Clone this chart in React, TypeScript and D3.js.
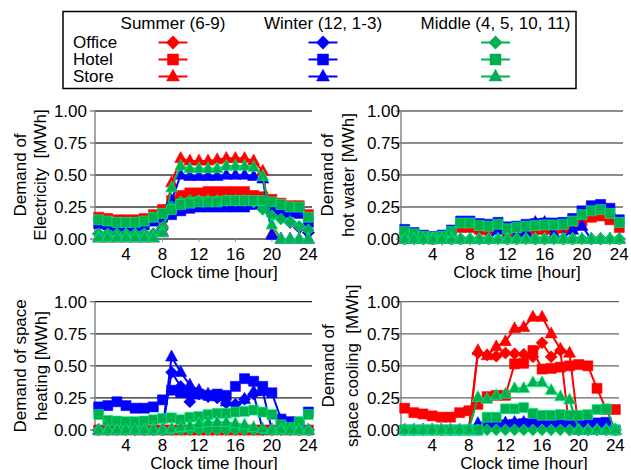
import React from "react";
import * as d3 from "d3";

// x categories and axis ticks
const hours = [1, 2, 3, 4, 5, 6, 7, 8, 9, 10, 11, 12, 13, 14, 15, 16, 17, 18, 19, 20, 21, 22, 23, 24];
const xTicks = [4, 8, 12, 16, 20, 24];
const yTicks = [0, 0.25, 0.5, 0.75, 1];
const seasons = ["Summer (6-9)", "Winter (12, 1-3)", "Middle (4, 5, 10, 11)"];
const buildings = ["Office", "Hotel", "Store"];
const seasonColors = ["#ff0000", "#0000ff", "#00b050"];

// Electricity [MWh]
const elecSummerOffice = [0.04, 0.04, 0.04, 0.04, 0.04, 0.04, 0.04, 0.1, 0.26, 0.31, 0.33, 0.33, 0.33, 0.33, 0.33, 0.33, 0.33, 0.31, 0.25, 0.2, 0.17, 0.13, 0.09, 0.05];
const elecSummerHotel = [0.17, 0.16, 0.15, 0.15, 0.15, 0.16, 0.19, 0.23, 0.3, 0.34, 0.36, 0.36, 0.37, 0.37, 0.37, 0.37, 0.37, 0.34, 0.33, 0.31, 0.28, 0.26, 0.26, 0.19];
const elecSummerStore = [0.01, 0.01, 0.01, 0.01, 0.01, 0.01, 0.01, 0.06, 0.44, 0.63, 0.61, 0.61, 0.61, 0.62, 0.63, 0.63, 0.63, 0.61, 0.53, 0.04, 0, 0, 0, 0];
const elecWinterOffice = [0.04, 0.04, 0.04, 0.04, 0.04, 0.04, 0.04, 0.08, 0.24, 0.28, 0.29, 0.29, 0.29, 0.29, 0.29, 0.29, 0.29, 0.28, 0.24, 0.2, 0.17, 0.13, 0.09, 0.05];
const elecWinterHotel = [0.12, 0.11, 0.1, 0.1, 0.1, 0.11, 0.14, 0.17, 0.19, 0.22, 0.24, 0.25, 0.25, 0.25, 0.25, 0.25, 0.25, 0.27, 0.27, 0.26, 0.23, 0.21, 0.2, 0.13];
const elecWinterStore = [0.01, 0.01, 0.01, 0.01, 0.01, 0.01, 0.01, 0.05, 0.3, 0.5, 0.49, 0.49, 0.49, 0.49, 0.5, 0.5, 0.5, 0.49, 0.47, 0.03, 0, 0, 0, 0];
const elecMiddleOffice = [0.04, 0.04, 0.04, 0.04, 0.04, 0.04, 0.04, 0.09, 0.25, 0.29, 0.3, 0.3, 0.3, 0.3, 0.3, 0.3, 0.3, 0.29, 0.23, 0.18, 0.155, 0.135, 0.1, 0.07];
const elecMiddleHotel = [0.15, 0.14, 0.13, 0.13, 0.13, 0.14, 0.17, 0.2, 0.23, 0.27, 0.28, 0.29, 0.29, 0.29, 0.3, 0.3, 0.3, 0.3, 0.3, 0.29, 0.27, 0.25, 0.25, 0.17];
const elecMiddleStore = [0.01, 0.01, 0.01, 0.01, 0.01, 0.01, 0.01, 0.05, 0.4, 0.57, 0.55, 0.55, 0.55, 0.55, 0.57, 0.57, 0.57, 0.56, 0.49, 0.11, 0, 0, 0, 0];

// Hot water [MWh]
const hwSummerOffice = [0, 0, 0, 0, 0, 0, 0, 0, 0, 0, 0, 0, 0, 0, 0, 0, 0, 0, 0, 0, 0, 0, 0, 0];
const hwSummerHotel = [0.02, 0.01, 0.005, 0, 0.005, 0.02, 0.09, 0.09, 0.075, 0.07, 0.08, 0.055, 0.06, 0.07, 0.075, 0.075, 0.075, 0.085, 0.1, 0.14, 0.17, 0.18, 0.15, 0.09];
const hwSummerStore = [0, 0, 0, 0, 0, 0, 0, 0, 0, 0, 0, 0, 0, 0, 0, 0, 0, 0, 0, 0, 0, 0, 0, 0];
const hwWinterOffice = [0, 0, 0, 0, 0, 0, 0, 0, 0, 0, 0, 0, 0, 0, 0, 0, 0, 0, 0, 0, 0, 0, 0, 0];
const hwWinterHotel = [0.075, 0.05, 0.03, 0.02, 0.03, 0.07, 0.14, 0.14, 0.12, 0.115, 0.13, 0.095, 0.1, 0.115, 0.12, 0.125, 0.125, 0.13, 0.16, 0.22, 0.26, 0.27, 0.24, 0.15];
const hwWinterStore = [0, 0, 0, 0, 0, 0, 0, 0, 0, 0, 0.07, 0.08, 0.02, 0.05, 0.13, 0.13, 0.03, 0.01, 0.07, 0.1, 0, 0, 0, 0];
const hwMiddleOffice = [0, 0, 0, 0, 0, 0, 0, 0, 0, 0, 0, 0, 0, 0, 0, 0, 0, 0, 0, 0, 0, 0, 0, 0];
const hwMiddleHotel = [0.06, 0.04, 0.02, 0.015, 0.02, 0.06, 0.125, 0.125, 0.105, 0.1, 0.115, 0.08, 0.09, 0.1, 0.105, 0.11, 0.11, 0.115, 0.14, 0.19, 0.22, 0.23, 0.2, 0.13];
const hwMiddleStore = [0, 0, 0, 0, 0, 0, 0, 0, 0, 0, 0, 0, 0, 0, 0, 0, 0, 0, 0, 0, 0, 0, 0, 0];

// Space heating [MWh]
const heatSummerOffice = [0, 0, 0, 0, 0, 0, 0, 0, 0, 0, 0, 0, 0, 0, 0, 0, 0, 0, 0, 0, 0, 0, 0, 0];
const heatSummerHotel = [0, 0, 0, 0, 0, 0, 0, 0, 0, 0, 0, 0, 0, 0, 0, 0, 0, 0, 0, 0, 0, 0, 0, 0];
const heatSummerStore = [0, 0, 0, 0, 0, 0, 0, 0, 0, 0, 0, 0, 0, 0, 0, 0, 0, 0, 0, 0, 0, 0, 0, 0];
const heatWinterOffice = [0, 0, 0, 0, 0, 0, 0, 0, 0.45, 0.34, 0.22, 0.28, 0.26, 0.25, 0.21, 0.2, 0.24, 0.28, 0, 0, 0, 0, 0, 0];
const heatWinterHotel = [0.18, 0.19, 0.22, 0.19, 0.17, 0.17, 0.18, 0.235, 0.31, 0.29, 0.29, 0.28, 0.27, 0.28, 0.27, 0.34, 0.4, 0.38, 0.34, 0.29, 0.085, 0.065, 0.06, 0.14];
const heatWinterStore = [0, 0, 0, 0, 0, 0, 0, 0, 0.57, 0.45, 0.35, 0.31, 0.28, 0.26, 0.22, 0.19, 0.24, 0.3, 0.3, 0, 0, 0, 0, 0];
const heatMiddleOffice = [0, 0, 0, 0, 0, 0, 0, 0, 0, 0, 0, 0, 0, 0, 0, 0, 0, 0, 0, 0, 0, 0, 0, 0];
const heatMiddleHotel = [0.12, 0.075, 0.07, 0.065, 0.065, 0.07, 0.08, 0.09, 0.095, 0.08, 0.1, 0.105, 0.12, 0.13, 0.13, 0.14, 0.145, 0.155, 0.14, 0.12, 0.04, 0.02, 0.065, 0.12];
const heatMiddleStore = [0, 0, 0, 0, 0, 0, 0, 0, 0.01, 0.02, 0.03, 0.05, 0.06, 0.06, 0.06, 0.05, 0.04, 0.02, 0.01, 0, 0, 0, 0, 0];

// Space cooling [MWh]
const coolSummerOffice = [0, 0, 0, 0, 0, 0, 0, 0, 0.6, 0.585, 0.575, 0.6, 0.595, 0.59, 0.57, 0.68, 0.57, 0.62, 0, 0, 0, 0, 0, 0];
const coolSummerHotel = [0.17, 0.135, 0.125, 0.11, 0.1, 0.1, 0.135, 0.15, 0.2, 0.26, 0.27, 0.27, 0.515, 0.52, 0.62, 0.475, 0.48, 0.49, 0.5, 0.51, 0.5, 0.325, 0.16, 0.16];
const coolSummerStore = [0, 0, 0, 0, 0, 0, 0, 0, 0.62, 0.58, 0.65, 0.69, 0.79, 0.8, 0.88, 0.88, 0.75, 0.63, 0.6, 0, 0, 0, 0, 0];
const coolWinterOffice = [0, 0, 0, 0, 0, 0, 0, 0, 0.01, 0.02, 0.02, 0.02, 0.02, 0.02, 0.02, 0.02, 0.02, 0.02, 0.02, 0, 0, 0, 0, 0];
const coolWinterHotel = [0, 0, 0, 0, 0, 0, 0, 0, 0, 0.03, 0.035, 0.04, 0.045, 0.05, 0.05, 0.05, 0.05, 0.045, 0.045, 0.04, 0.05, 0.055, 0.06, 0];
const coolWinterStore = [0, 0, 0, 0, 0, 0, 0, 0, 0.05, 0.05, 0.05, 0.055, 0.06, 0.06, 0.065, 0.065, 0.06, 0.06, 0.055, 0, 0, 0, 0, 0];
const coolMiddleOffice = [0, 0, 0, 0, 0, 0, 0, 0, 0, 0, 0, 0, 0, 0, 0, 0, 0, 0, 0, 0, 0, 0, 0, 0];
const coolMiddleHotel = [0, 0, 0, 0, 0, 0, 0, 0, 0, 0.1, 0.1, 0.165, 0.165, 0.175, 0.13, 0.115, 0.115, 0.12, 0.115, 0.115, 0.12, 0.16, 0.165, 0];
const coolMiddleStore = [0, 0, 0, 0, 0, 0, 0, 0, 0.255, 0.24, 0.27, 0.28, 0.325, 0.325, 0.37, 0.37, 0.31, 0.26, 0.235, 0, 0, 0, 0, 0];

// [season][building] tables per panel
const panels = [
  {
    labels: ["Demand of", "Electricity  [MWh]"],
    series: [
      [elecSummerOffice, elecSummerHotel, elecSummerStore],
      [elecWinterOffice, elecWinterHotel, elecWinterStore],
      [elecMiddleOffice, elecMiddleHotel, elecMiddleStore],
    ],
    box: { x0: 95, x1: 312, y0: 239, y1: 111, tickRight: 87, l1: 20, l2: 40, titleX: 214, grid: "#3a3a3a" },
  },
  {
    labels: ["Demand of", "hot water [MWh]"],
    series: [
      [hwSummerOffice, hwSummerHotel, hwSummerStore],
      [hwWinterOffice, hwWinterHotel, hwWinterStore],
      [hwMiddleOffice, hwMiddleHotel, hwMiddleStore],
    ],
    box: { x0: 401, x1: 623, y0: 239, y1: 111, tickRight: 400, l1: 327, l2: 348, titleX: 517, grid: "#666" },
  },
  {
    labels: ["Demand of space", "heating [MWh]"],
    series: [
      [heatSummerOffice, heatSummerHotel, heatSummerStore],
      [heatWinterOffice, heatWinterHotel, heatWinterStore],
      [heatMiddleOffice, heatMiddleHotel, heatMiddleStore],
    ],
    box: { x0: 95, x1: 312, y0: 430, y1: 301.7, tickRight: 87, l1: 20, l2: 41, titleX: 214, grid: "#222" },
  },
  {
    labels: ["Demand of", "space cooling  [MWh]"],
    series: [
      [coolSummerOffice, coolSummerHotel, coolSummerStore],
      [coolWinterOffice, coolWinterHotel, coolWinterStore],
      [coolMiddleOffice, coolMiddleHotel, coolMiddleStore],
    ],
    box: { x0: 401, x1: 619, y0: 430, y1: 301.7, tickRight: 400, l1: 328, l2: 352, titleX: 524, grid: "#666" },
  },
];

const FONT = "'Liberation Sans', Arial, Helvetica, sans-serif";

// marker shapes: 0 diamond (office), 1 square (hotel), 2 triangle (store)
function markerPath(kind: number, cx: number, cy: number, k = 1) {
  if (kind === 0) {
    const r = 6 * k;
    return `M${cx},${cy - r}L${cx + r},${cy}L${cx},${cy + r}L${cx - r},${cy}Z`;
  }
  if (kind === 1) {
    const h = 5 * k;
    return `M${cx - h},${cy - h}H${cx + h}V${cy + h}H${cx - h}Z`;
  }
  const w = 12 * k;
  const h = 11 * k;
  return `M${cx},${cy - h * 0.62}L${cx + w / 2},${cy + h * 0.38}L${cx - w / 2},${cy + h * 0.38}Z`;
}

function Panel({ p }: { p: (typeof panels)[number] }) {
  const b = p.box;
  const x = d3.scaleLinear().domain([0.6, 24.4]).range([b.x0, b.x1]);
  const y = d3.scaleLinear().domain([0, 1]).range([b.y0, b.y1]);
  const line = d3
    .line<number>()
    .x((_, i) => x(hours[i]))
    .y((d) => y(d));
  const cy = (b.y0 + b.y1) / 2;

  return (
    <g>
      {yTicks.slice(1).map((t) => (
        <line key={t} x1={b.x0} x2={b.x1} y1={y(t)} y2={y(t)} stroke={b.grid} strokeWidth={1.3} />
      ))}
      <line x1={b.x0} x2={b.x1} y1={b.y0} y2={b.y0} stroke="#444" strokeWidth={1.3} />
      <line x1={b.x0} x2={b.x0} y1={b.y1} y2={b.y0} stroke="#888" strokeWidth={1.5} />
      {yTicks.map((t) => (
        <g key={t}>
          <line x1={b.x0 - 5} x2={b.x0} y1={y(t)} y2={y(t)} stroke="#666" strokeWidth={1.2} />
          <text x={b.tickRight} y={y(t)} dy="0.36em" textAnchor="end" fontSize={17}>
            {d3.format(".2f")(t)}
          </text>
        </g>
      ))}
      {xTicks.map((t) => (
        <g key={t}>
          <line x1={x(t)} x2={x(t)} y1={b.y0} y2={b.y0 + 3} stroke="#999" strokeWidth={1} />
          <text x={x(t)} y={b.y0 + 21} textAnchor="middle" fontSize={17}>
            {t}
          </text>
        </g>
      ))}
      <text x={b.titleX} y={b.y0 + 39} textAnchor="middle" fontSize={17}>
        Clock time [hour]
      </text>
      {p.labels.map((l, i) => (
        <text
          key={l}
          transform={`translate(${i === 0 ? b.l1 : b.l2},${cy}) rotate(-90)`}
          dy="0.36em"
          textAnchor="middle"
          fontSize={17}
          style={{ whiteSpace: "pre" }}
        >
          {l}
        </text>
      ))}
      {p.series.map((row, s) =>
        row.map((vals, k) => (
          <g key={`${s}-${k}`}>
            <path d={line(vals) ?? ""} fill="none" stroke={seasonColors[s]} strokeWidth={2} />
            {vals.map((v, i) => (
              <path
                key={i}
                d={markerPath(k, x(hours[i]), y(v))}
                fill={seasonColors[s]}
                stroke={d3.color(seasonColors[s])!.brighter(1.4).formatHex()}
                strokeWidth={0.6}
              />
            ))}
          </g>
        ))
      )}
    </g>
  );
}

function Legend() {
  const colX = [173, 323, 495.5];
  const rowY = [42.5, 59.5, 76.5];
  return (
    <g>
      <rect x={63} y={11.5} width={513} height={77} fill="white" stroke="#000" strokeWidth={1.5} />
      {seasons.map((s, i) => (
        <text key={s} x={colX[i]} y={29} textAnchor="middle" fontSize={17}>
          {s}
        </text>
      ))}
      {buildings.map((bld, k) => (
        <g key={bld}>
          <text x={73} y={rowY[k] + 5.8} fontSize={17}>
            {bld}
          </text>
          {colX.map((cx, s) => (
            <g key={s}>
              <line x1={cx - 14.5} x2={cx + 14.5} y1={rowY[k]} y2={rowY[k]} stroke={seasonColors[s]} strokeWidth={2} />
              <path d={markerPath(k, cx, rowY[k], 1.15)} fill={seasonColors[s]} />
            </g>
          ))}
        </g>
      ))}
    </g>
  );
}

export default function App() {
  return (
    <svg
      width={631}
      height={470}
      style={{ position: "absolute", left: 0, top: 0, background: "white" }}
      fontFamily={FONT}
    >
      <Legend />
      {panels.map((p, i) => (
        <Panel key={i} p={p} />
      ))}
    </svg>
  );
}
